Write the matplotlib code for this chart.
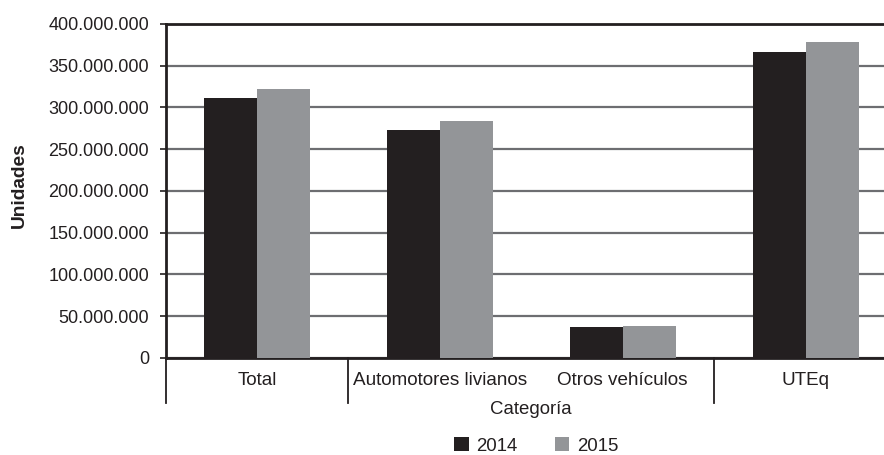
import matplotlib
matplotlib.use("Agg")
import matplotlib.pyplot as plt
from matplotlib.ticker import FuncFormatter, MultipleLocator
from matplotlib.patches import Patch
import numpy as np

plt.rcParams['font.family'] = ['Liberation Sans', 'DejaVu Sans']

categories = ["Total", "Automotores livianos", "Otros vehículos", "UTEq"]
groups = [["Total"], ["Automotores livianos", "Otros vehículos"], ["UTEq"]]
series_names = ["2014", "2015"]
values_2014 = [311_500_000, 273_000_000, 37_500_000, 366_500_000]
values_2015 = [322_000_000, 284_000_000, 38_700_000, 378_500_000]
colors = ["#231f20", "#939598"]

fig = plt.figure(figsize=(8.84, 4.55), dpi=100)
ax = fig.add_axes([0.1873, 0.2132, 0.8274, 0.7341])

x = np.arange(len(categories))
w = 0.29
ax.bar(x - w / 2, values_2014, w, color=colors[0], zorder=3, label=series_names[0])
ax.bar(x + w / 2, values_2015, w, color=colors[1], zorder=3, label=series_names[1])

ax.set_xlim(-0.5, len(categories) - 0.5)
ax.set_ylim(0, 400_000_000)
ax.yaxis.set_major_locator(MultipleLocator(50_000_000))
ax.yaxis.set_major_formatter(FuncFormatter(lambda v, p: f"{int(v):,}".replace(",", ".")))
ax.grid(axis='y', color='#6d6e71', linewidth=1.6, zorder=0)
ax.set_axisbelow(True)

ax.spines['right'].set_visible(False)
for s in ['top', 'left', 'bottom']:
    ax.spines[s].set_color('#231f20')
    ax.spines[s].set_linewidth(2)

ax.tick_params(axis='y', length=4, width=1.2, color='#231f20', pad=8, labelsize=13, labelcolor='#231f20')
ax.set_xticks(x)
ax.set_xticklabels(categories, fontsize=13.6, color='#231f20')
ax.tick_params(axis='x', length=0, pad=10)

# group separators extending below the axis
bounds = [-0.5]
pos = -0.5
for g in groups:
    pos += len(g)
    bounds.append(pos)
for b in bounds:
    ax.plot([b, b], [0, -0.135], transform=ax.get_xaxis_transform(), color='#231f20',
            linewidth=1.3, clip_on=False, zorder=4)

ax.set_xlabel("Categoría", fontsize=13.4, color='#231f20', labelpad=9)
fig.text(19 / 884, 1 - 185 / 455, "Unidades", rotation=90, fontsize=13.8, fontweight='bold',
         ha='center', va='center', color='#231f20')

handles = [Patch(facecolor=colors[0]), Patch(facecolor=colors[1])]
fig.legend(handles, series_names, ncol=2, loc='center', bbox_to_anchor=(536 / 884, 1 - 446 / 455),
           frameon=False, fontsize=13.4, handlelength=0.8, handleheight=0.8, handletextpad=0.4,
           columnspacing=2.0, labelcolor='#231f20')

fig.savefig("out.png", dpi=100)
